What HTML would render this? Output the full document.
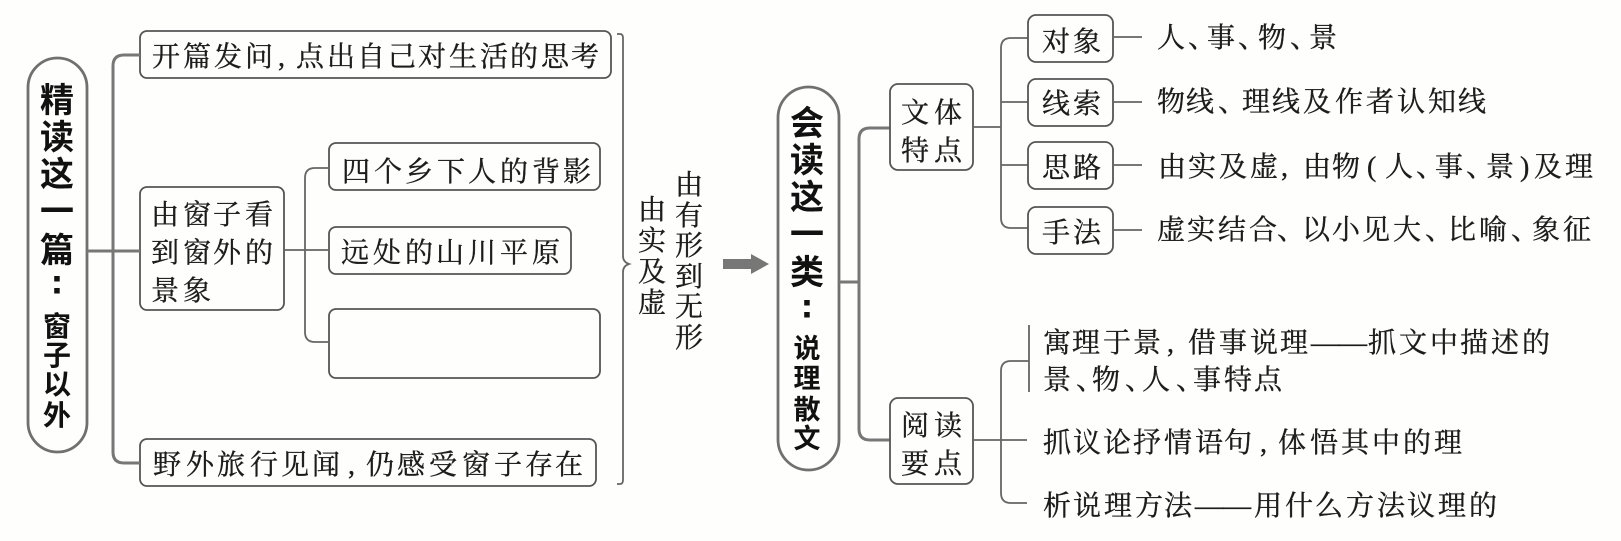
<!DOCTYPE html>
<html lang="zh"><head><meta charset="utf-8"><style>
html,body{margin:0;padding:0;background:#fefefd}
svg{display:block}
.t{font-family:"Liberation Serif","Noto Serif CJK SC",serif;font-size:28px;fill:#1c1c1c;stroke:#1c1c1c;stroke-width:.35}
.b{font-family:"Liberation Sans","Noto Sans CJK SC",sans-serif;font-weight:700;fill:#111;text-anchor:middle}
.c{font-family:"Liberation Sans",sans-serif;stroke:#111;stroke-width:1}
.box{fill:none;stroke:#555;stroke-width:1.8}
.pill{fill:none;stroke:#707070;stroke-width:2.8}
.l{fill:none;stroke:#666;stroke-width:1.8}
.tr{fill:none;stroke:#777;stroke-width:3}
</style></head><body>
<svg width="1621" height="541" viewBox="0 0 1621 541" xmlns="http://www.w3.org/2000/svg">
<rect width="1621" height="541" fill="#fefefd"/>
<!-- left -->
<rect class="pill" x="28" y="58" width="59" height="394" rx="29.5"/>
<rect class="box" x="140" y="31" width="471" height="47" rx="7"/>
<rect class="box" x="140" y="187" width="144" height="123" rx="7"/>
<rect class="box" x="329" y="143" width="271" height="47" rx="7"/>
<rect class="box" x="329" y="227" width="242" height="47" rx="7"/>
<rect class="box" x="329" y="309" width="271" height="69" rx="7"/>
<rect class="box" x="140" y="439" width="456" height="47" rx="7"/>
<path class="tr" d="M140 55H124Q113 55 113 66V452Q113 463 124 463H140M87 251H140"/>
<path class="l" d="M329 168H315Q305 168 305 178V332Q305 342 315 342H329M284 250H329"/>
<text class="b" font-size="34" x="57" y="112">精</text>
<text class="b" font-size="34" x="57" y="149">读</text>
<text class="b" font-size="34" x="57" y="186">这</text>
<text class="b" font-size="34" x="57" y="223">一</text>
<text class="b" font-size="34" x="57" y="262">篇</text>
<text class="b c" font-size="32" x="57" y="293">:</text>
<text class="b" font-size="28" x="57" y="336">窗</text>
<text class="b" font-size="28" x="57" y="365">子</text>
<text class="b" font-size="28" x="57" y="394">以</text>
<text class="b" font-size="28" x="57" y="425">外</text>
<text class="t" x="152 183 214 245 278 296 327 357 388 418 449 480 510 541 571" y="66">开篇发问,点出自己对生活的思考</text>
<text class="t" x="342 374 405 437 468 500 532 563" y="181">四个乡下人的背影</text>
<text class="t" x="341 373 405 436 468 500 532" y="262">远处的山川平原</text>
<text class="t" x="151 183 213 245" y="224">由窗子看</text>
<text class="t" x="151 183 213 245" y="262">到窗外的</text>
<text class="t" x="151 183" y="300">景象</text>
<text class="t" x="153 186 217 250 281 312 348 366 397 429 462 494 525 555" y="474">野外旅行见闻,仍感受窗子存在</text>
<!-- brace -->
<path class="l" d="M617 34H620Q623 34 623 38V256Q623 262 629 264Q623 266 623 272V480Q623 484 620 484H617"/>
<g class="t" text-anchor="middle">
<text x="689" y="194">由</text><text x="689" y="225">有</text><text x="689" y="255">形</text><text x="689" y="286">到</text><text x="689" y="316">无</text><text x="689" y="347">形</text>
<text x="652" y="219">由</text><text x="652" y="250">实</text><text x="652" y="281">及</text><text x="652" y="312">虚</text>
</g>
<path d="M723 259H751V254L769 264L751 274V269H723Z" fill="#777"/>
<!-- right pill -->
<rect class="pill" x="778" y="87" width="61" height="383" rx="30.5"/>
<text class="b" font-size="34" x="807" y="135">会</text>
<text class="b" font-size="34" x="807" y="172">读</text>
<text class="b" font-size="34" x="807" y="209">这</text>
<text class="b" font-size="34" x="807" y="246">一</text>
<text class="b" font-size="34" x="807" y="284">类</text>
<text class="b c" font-size="32" x="807" y="317">:</text>
<text class="b" font-size="27" x="807" y="358">说</text>
<text class="b" font-size="27" x="807" y="388">理</text>
<text class="b" font-size="27" x="807" y="419">散</text>
<text class="b" font-size="27" x="807" y="448">文</text>
<path class="tr" d="M839 282H859M890 128H870Q859 128 859 139V429Q859 440 870 440H890"/>
<rect class="box" x="890" y="84" width="83" height="86" rx="8"/>
<rect class="box" x="890" y="398" width="83" height="86" rx="8"/>
<text class="t" x="901 934" y="122">文体</text>
<text class="t" x="901 934" y="160">特点</text>
<text class="t" x="901 934" y="435">阅读</text>
<text class="t" x="901 934" y="473">要点</text>
<path class="l" d="M973 127H1001M1028 38H1011Q1001 38 1001 48V218Q1001 228 1011 228H1028M1001 102H1028M1001 165H1028"/>
<rect class="box" x="1028" y="15" width="85" height="47" rx="8"/>
<rect class="box" x="1028" y="79" width="85" height="47" rx="8"/>
<rect class="box" x="1028" y="142" width="85" height="47" rx="8"/>
<rect class="box" x="1028" y="207" width="85" height="47" rx="8"/>
<path class="l" d="M1113 37H1142M1113 102H1142M1113 165H1142M1113 230H1142"/>
<text class="t" x="1042 1073" y="51">对象</text>
<text class="t" x="1042 1073" y="113">线索</text>
<text class="t" x="1042 1073" y="177">思路</text>
<text class="t" x="1042 1073" y="242">手法</text>
<text class="t" x="1157 1188 1207 1238 1258 1290 1309" y="47">人、事、物、景</text>
<text class="t" x="1157 1186 1218 1242 1272 1303 1335 1366 1397 1428 1458" y="111">物线、理线及作者认知线</text>
<text class="t" x="1158 1188 1219 1250 1281 1303 1332 1367 1385 1416 1435 1466 1486 1520 1534 1565" y="176">由实及虚,由物(人、事、景)及理</text>
<text class="t" x="1157 1187 1218 1249 1277 1302 1332 1362 1393 1425 1448 1479 1511 1532 1563" y="239">虚实结合、以小见大、比喻、象征</text>
<path class="l" d="M1029 325V392M1029 361H1011Q1001 361 1001 371V493Q1001 503 1011 503H1027M973 440H1027"/>
<text class="t" x="1043 1072 1103 1133 1167 1188 1219 1250 1280 1311 1339 1368 1399 1430 1460 1491 1522" y="352">寓理于景,借事说理——抓文中描述的</text>
<text class="t" x="1043 1076 1092 1125 1142 1176 1193 1224 1254" y="389">景、物、人、事特点</text>
<text class="t" x="1043 1073 1103 1133 1164 1195 1224 1260 1278 1310 1341 1372 1403 1434" y="452">抓议论抒情语句,体悟其中的理</text>
<text class="t" x="1043 1073 1104 1135 1164 1195 1223 1254 1285 1315 1346 1377 1407 1438 1469" y="515">析说理方法——用什么方法议理的</text>
</svg>
</body></html>
